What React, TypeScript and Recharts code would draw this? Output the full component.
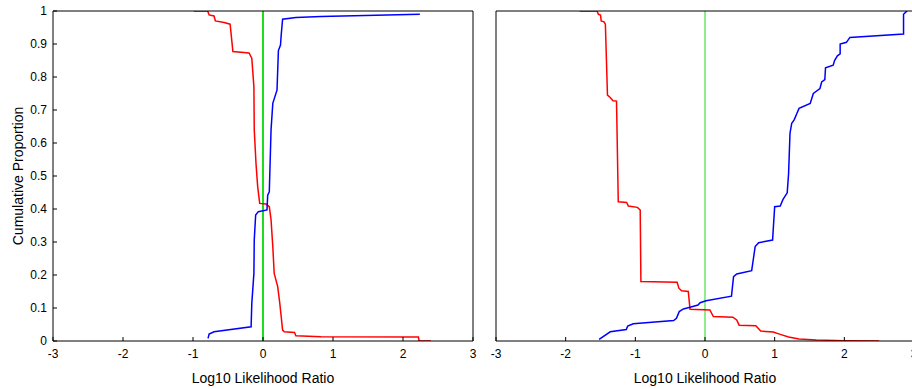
import React from 'react';
import { LineChart, Line, XAxis, YAxis, ReferenceLine } from 'recharts';

// axis ticks
const xTicks = [-3, -2, -1, 0, 1, 2, 3];
const yTicks = [0, 0.1, 0.2, 0.3, 0.4, 0.5, 0.6, 0.7, 0.8, 0.9, 1];

// left panel, red curve (log10 LR, cumulative proportion)
const leftRedX = [-0.99, -0.79, -0.77, -0.7, -0.68, -0.555, -0.47, -0.46, -0.43, -0.2, -0.16, -0.13, -0.125, -0.1, -0.076, -0.047, 0.043, 0.09, 0.115, 0.14, 0.16, 0.21, 0.24, 0.26, 0.28, 0.305, 0.45, 0.47, 0.83, 2.22, 2.23, 2.4];
const leftRedY = [1, 1, 0.988, 0.985, 0.97, 0.965, 0.96, 0.94, 0.877, 0.873, 0.857, 0.77, 0.64, 0.538, 0.468, 0.417, 0.415, 0.407, 0.367, 0.286, 0.205, 0.165, 0.114, 0.074, 0.033, 0.028, 0.026, 0.016, 0.013, 0.012, 0, 0];

// left panel, blue curve
const leftBlueX = [-0.785, -0.77, -0.7, -0.17, -0.16, -0.13, -0.125, -0.105, -0.067, 0.057, 0.067, 0.09, 0.115, 0.14, 0.177, 0.2, 0.22, 0.25, 0.26, 0.28, 0.47, 0.83, 2.24];
const leftBlueY = [0.008, 0.021, 0.028, 0.043, 0.114, 0.205, 0.306, 0.382, 0.392, 0.397, 0.442, 0.452, 0.64, 0.72, 0.745, 0.76, 0.88, 0.897, 0.927, 0.975, 0.98, 0.983, 0.99];

// right panel, red curve
const rightRedX = [-1.8, -1.55, -1.53, -1.5, -1.49, -1.45, -1.43, -1.4, -1.36, -1.32, -1.27, -1.245, -1.125, -1.1, -0.97, -0.93, -0.92, -0.4, -0.375, -0.335, -0.24, -0.215, 0.07, 0.12, 0.4, 0.455, 0.49, 0.73, 0.8, 0.98, 1.08, 1.2, 1.35, 1.6, 2.0, 2.5];
const rightRedY = [1, 1, 0.99, 0.988, 0.97, 0.967, 0.96, 0.745, 0.738, 0.728, 0.727, 0.422, 0.42, 0.409, 0.405, 0.397, 0.18, 0.178, 0.16, 0.152, 0.15, 0.096, 0.094, 0.074, 0.072, 0.064, 0.048, 0.046, 0.03, 0.027, 0.02, 0.012, 0.006, 0.003, 0.001, 0];

// right panel, blue curve
const rightBlueX = [-1.52, -1.36, -1.13, -1.11, -1.03, -0.45, -0.41, -0.37, -0.31, -0.215, -0.1, -0.07, 0.015, 0.38, 0.41, 0.455, 0.67, 0.72, 0.77, 0.97, 1.0, 1.08, 1.12, 1.18, 1.2, 1.22, 1.245, 1.28, 1.32, 1.35, 1.51, 1.555, 1.65, 1.675, 1.72, 1.73, 1.84, 1.86, 1.9, 1.94, 1.94, 2.03, 2.08, 2.85, 2.85, 2.9];
const rightBlueY = [0.005, 0.028, 0.035, 0.045, 0.052, 0.062, 0.069, 0.089, 0.097, 0.102, 0.109, 0.116, 0.122, 0.136, 0.195, 0.203, 0.213, 0.286, 0.298, 0.306, 0.407, 0.409, 0.429, 0.449, 0.508, 0.629, 0.66, 0.67, 0.69, 0.705, 0.72, 0.75, 0.765, 0.785, 0.792, 0.828, 0.836, 0.85, 0.864, 0.87, 0.9, 0.905, 0.92, 0.93, 0.99, 1];

const zip = (xs: number[], ys: number[]) => xs.map((x, i) => ({ x, y: ys[i] }));

const FONT = '"Liberation Sans", Arial, Helvetica, sans-serif';
const tickStyle = { fill: '#000', fontSize: 12, fontFamily: FONT };

interface PanelProps {
  width: number;
  yAxisWidth: number;
  marginRight: number;
  showYLabels: boolean;
  red: { x: number; y: number }[];
  blue: { x: number; y: number }[];
  greenWidth: number;
}

const Panel: React.FC<PanelProps> = ({ width, yAxisWidth, marginRight, showYLabels, red, blue, greenWidth }) => (
  <LineChart width={width} height={389} margin={{ top: 10, right: marginRight, bottom: 0, left: 0 }}>
    <XAxis
      dataKey="x"
      type="number"
      domain={[-3, 3]}
      ticks={xTicks}
      interval={0}
      allowDataOverflow
      height={48}
      stroke="#000"
      tickSize={-4}
      tickMargin={12}
      tick={tickStyle}
      label={{ value: 'Log10 Likelihood Ratio', position: 'insideBottom', offset: 6, fill: '#000', fontSize: 14, fontFamily: FONT }}
    />
    <XAxis
      xAxisId="top"
      orientation="top"
      dataKey="x"
      type="number"
      domain={[-3, 3]}
      ticks={xTicks}
      interval={0}
      allowDataOverflow
      height={1}
      stroke="#000"
      tickSize={-4}
      tick={false}
    />
    <YAxis
      type="number"
      domain={[0, 1]}
      ticks={yTicks}
      interval={0}
      allowDataOverflow
      width={yAxisWidth}
      stroke="#000"
      tickSize={-4}
      tickMargin={10}
      tick={showYLabels ? tickStyle : false}
      tickFormatter={(v: number) => String(Math.round(v * 10) / 10)}
      label={
        showYLabels
          ? (props: any) => {
              const vb = props.viewBox || { x: 0, y: 11, height: 330 };
              const cx = vb.x + 18;
              const cy = vb.y + vb.height / 2;
              return (
                <text
                  x={cx}
                  y={cy}
                  transform={`rotate(-90 ${cx} ${cy})`}
                  textAnchor="middle"
                  dominantBaseline="central"
                  fill="#000"
                  fontSize={14}
                  fontFamily={FONT}
                >
                  Cumulative Proportion
                </text>
              );
            }
          : undefined
      }
    />
    <YAxis
      yAxisId="right"
      orientation="right"
      type="number"
      domain={[0, 1]}
      ticks={yTicks}
      interval={0}
      width={1}
      stroke="#000"
      tickSize={-4}
      tick={false}
    />
    <ReferenceLine x={0} stroke="#1ddc1d" strokeWidth={greenWidth} />
    <Line data={red} dataKey="y" type="linear" stroke="#ff0000" strokeWidth={1.5} dot={false} activeDot={false} isAnimationActive={false} />
    <Line data={blue} dataKey="y" type="linear" stroke="#0000ff" strokeWidth={1.5} dot={false} activeDot={false} isAnimationActive={false} />
  </LineChart>
);

export default function App() {
  return (
    <div style={{ position: 'absolute', left: 0, top: 0, width: 912, height: 389, overflow: 'hidden', background: '#fff' }}>
      <div style={{ position: 'absolute', left: 0, top: 0 }}>
        <Panel
          width={480}
          yAxisWidth={53}
          marginRight={6}
          showYLabels
          red={zip(leftRedX, leftRedY)}
          blue={zip(leftBlueX, leftBlueY)}
          greenWidth={2}
        />
      </div>
      <div style={{ position: 'absolute', left: 480, top: 0 }}>
        <Panel
          width={440}
          yAxisWidth={16}
          marginRight={5}
          showYLabels={false}
          red={zip(rightRedX, rightRedY)}
          blue={zip(rightBlueX, rightBlueY)}
          greenWidth={1}
        />
      </div>
    </div>
  );
}
